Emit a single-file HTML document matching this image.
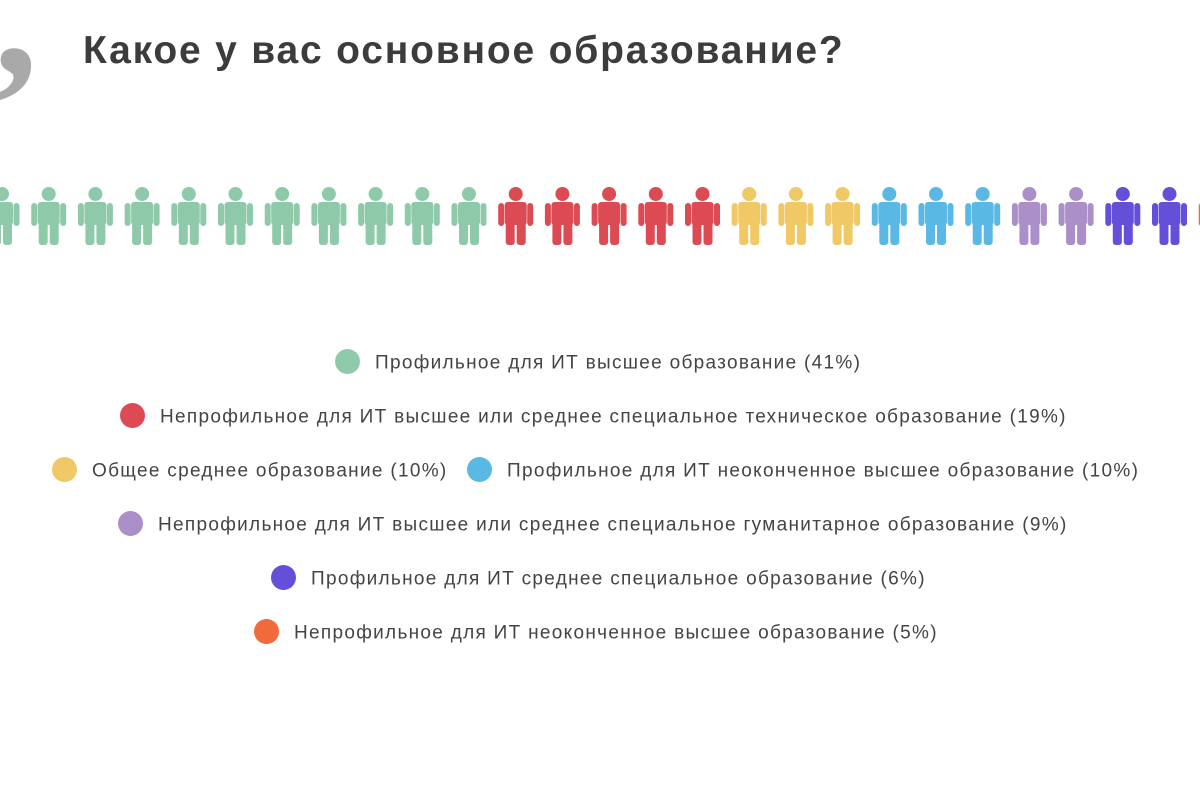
<!DOCTYPE html>
<html><head><meta charset="utf-8"><style>
body{margin:0;width:1200px;height:800px;background:#fff;overflow:hidden;position:relative;font-family:"Liberation Sans","DejaVu Sans",sans-serif}
.t{position:absolute;left:83px;top:29px;font-size:39px;font-weight:bold;color:#3c3c3c;white-space:nowrap;letter-spacing:1.8px}
.q{position:absolute;left:-6px;top:-72px;font-size:175px;font-weight:bold;color:#a9a9a9;font-family:"Liberation Serif",serif;line-height:1}
.l{position:absolute;font-size:19px;color:#444;white-space:nowrap;line-height:24px;letter-spacing:1.3px}
.d{display:inline-block;width:25px;height:25px;border-radius:50%;vertical-align:middle;margin-right:15px;position:relative;top:-2px}
</style></head><body>
<div class="q">,</div>
<div class="t">Какое у вас основное образование?</div>
<svg width="1200" height="800" style="position:absolute;left:0;top:0">
<defs><g id="p">
<circle cx="0" cy="194" r="7"/>
<rect x="-11" y="202" width="22" height="23" rx="3"/>
<rect x="-17.5" y="203" width="6" height="23" rx="3"/>
<rect x="11.5" y="203" width="6" height="23" rx="3"/>
<rect x="-10" y="220" width="9" height="25" rx="3"/>
<rect x="1" y="220" width="9" height="25" rx="3"/>
</g></defs>
<g id="icons"></g>
</svg>
<script>
var cols=[];function a(c,n){for(var i=0;i<n;i++)cols.push(c)}
a('#8ecaaa',11);a('#dc4b53',5);a('#f0c865',3);a('#5ab9e4',3);a('#ab8fc8',2);a('#6450d8',2);a('#f26a3c',1);
var g=document.getElementById('icons'),s='';
cols.forEach(function(c,i){s+='<use href="#p" x="'+(2+i*46.7)+'" fill="'+c+'"/>'});
g.innerHTML=s;
</script>
<div class="l" style="left:335px;top:351px"><span class="d" style="background:#8ecaaa"></span>Профильное для ИТ высшее образование (41%)</div>
<div class="l" style="left:120px;top:405px"><span class="d" style="background:#dc4b53"></span>Непрофильное для ИТ высшее или среднее специальное техническое образование (19%)</div>
<div class="l" style="left:52px;top:459px"><span class="d" style="background:#f0c865"></span>Общее среднее образование (10%)</div>
<div class="l" style="left:467px;top:459px"><span class="d" style="background:#5ab9e4"></span>Профильное для ИТ неоконченное высшее образование (10%)</div>
<div class="l" style="left:118px;top:513px"><span class="d" style="background:#ab8fc8"></span>Непрофильное для ИТ высшее или среднее специальное гуманитарное образование (9%)</div>
<div class="l" style="left:271px;top:567px"><span class="d" style="background:#6450d8"></span>Профильное для ИТ среднее специальное образование (6%)</div>
<div class="l" style="left:254px;top:621px"><span class="d" style="background:#f26a3c"></span>Непрофильное для ИТ неоконченное высшее образование (5%)</div>
</body></html>
